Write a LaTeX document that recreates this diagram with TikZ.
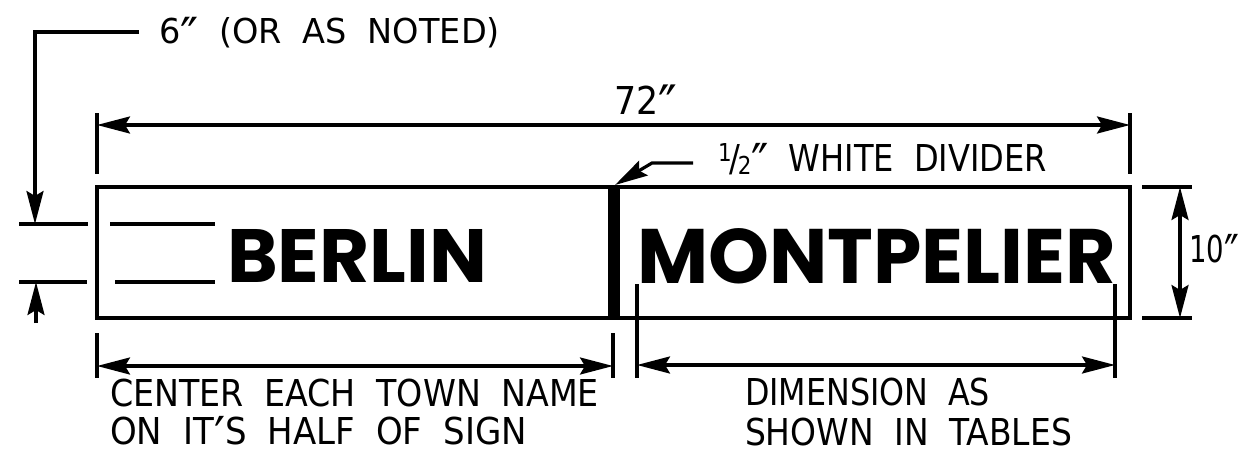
\documentclass[tikz,border=0pt]{standalone}
\usepackage{fontspec}
\usepackage{graphicx}
\usetikzlibrary{arrows.meta}
\newfontfamily\cadfont{DejaVu Sans}
\newfontfamily\signfont{Poppins}
\newcommand\capfit[3]{\resizebox{#1}{#2}{\vphantom{H}\smash{#3}}}
\newcommand\halfmark{{\fontsize{24pt}{24pt}\selectfont\raisebox{9pt}{1}}\kern-2pt/\kern-3pt{\fontsize{24pt}{24pt}\selectfont\raisebox{-3pt}{2}}}
\newcommand\inch{\raisebox{-0.3em}{\scalebox{1.45}{″}}}
\newcommand\apos{\raisebox{-0.3em}{\scalebox{1.45}{′}}}
\newcommand\widespaces{\spaceskip=0.62em\relax}
\begin{document}
\begin{tikzpicture}[x=1pt,y=-1pt,
  >={Stealth[length=33pt,width=17pt,inset=5pt]},
  ln/.style={line width=3.2pt},
  cad/.style={anchor=base west, inner sep=0pt, outer sep=0pt, font={\cadfont\fontsize{36pt}{36pt}\selectfont\widespaces}},
  signtext/.style={anchor=base west, inner sep=0pt, outer sep=0pt, font={\signfont\bfseries\fontsize{77pt}{77pt}\selectfont}}]
\useasboundingbox[fill=white] (0,0) rectangle (1241,458);

% sign panel and divider
\node[draw, line width=3.2pt, inner sep=0pt, outer sep=0pt, minimum width=1033pt, minimum height=131pt, anchor=north west] (sign) at (97,187) {};
\node[fill, inner sep=0pt, outer sep=0pt, minimum width=12pt, minimum height=131pt, anchor=north west] (divider) at (608,187) {};

% sign legends
\node[signtext] (berlin) at (227,282) {\resizebox{260pt}{53pt}{BERLIN}};
\node[signtext] (montpelier) at (637,283) {\resizebox{479pt}{55pt}{MONTPELIER}};

% labels
\node[cad] (t6) at (159,43) {\capfit{341pt}{25pt}{6\inch\ (OR AS NOTED)}};
\node[cad] (t72) at (614,114) {\capfit{63pt}{28pt}{72\inch}};
\node[cad] (tdiv) at (718,171) {\capfit{329pt}{27pt}{\halfmark\inch\ WHITE DIVIDER}};
\node[cad] (t10) at (1189,262) {\capfit{50pt}{27pt}{10\inch}};
\node[cad] (tc1) at (110,406) {\capfit{489pt}{27pt}{CENTER EACH TOWN NAME}};
\node[cad] (tc2) at (110,444) {\capfit{417pt}{27pt}{ON IT\apos S HALF OF SIGN}};
\node[cad] (td1) at (745,405) {\capfit{245pt}{27pt}{DIMENSION AS}};
\node[cad] (td2) at (745,445) {\capfit{327pt}{27pt}{SHOWN IN TABLES}};

% coordinates
\coordinate (L6a) at (139,32); \coordinate (L6b) at (35,32); \coordinate (L6c) at (35,224);
\coordinate (xa1) at (19,224); \coordinate (xa2) at (88,224);
\coordinate (xa3) at (110,224); \coordinate (xa4) at (215,224);
\coordinate (xb1) at (19,282); \coordinate (xb2) at (87,282);
\coordinate (xb3) at (115,282); \coordinate (xb4) at (215,282);
\coordinate (ar1) at (36,323); \coordinate (ar2) at (36,282);
\coordinate (e1a) at (97,113); \coordinate (e1b) at (97,174);
\coordinate (e2a) at (1130,113); \coordinate (e2b) at (1130,174);
\coordinate (d72a) at (97,125); \coordinate (d72b) at (1130,125);
\coordinate (dv1) at (693,163); \coordinate (dv2) at (652,163); \coordinate (dv3) at (615,185);
\coordinate (r1a) at (1142,187); \coordinate (r1b) at (1192,187);
\coordinate (r2a) at (1142,318); \coordinate (r2b) at (1192,318);
\coordinate (d10a) at (1180,187); \coordinate (d10b) at (1180,318);
\coordinate (b1a) at (97,333); \coordinate (b1b) at (97,378);
\coordinate (b2a) at (613,333); \coordinate (b2b) at (613,378);
\coordinate (dba) at (97,366); \coordinate (dbb) at (613,366);
\coordinate (c1a) at (637,284); \coordinate (c1b) at (637,378);
\coordinate (c2a) at (1115,284); \coordinate (c2b) at (1115,378);
\coordinate (dca) at (637,365); \coordinate (dcb) at (1115,365);

% 6" leader and left dimension
\draw[ln,->] (L6a) -- (L6b) -- (L6c);
\draw[ln] (xa1) -- (xa2);
\draw[ln] (xa3) -- (xa4);
\draw[ln] (xb1) -- (xb2);
\draw[ln] (xb3) -- (xb4);
\draw[ln,->] (ar1) -- (ar2);

% 72" dimension
\draw[ln] (e1a) -- (e1b);
\draw[ln] (e2a) -- (e2b);
\draw[ln,<->] (d72a) -- (d72b);

% divider leader
\draw[ln,->] (dv1) -- (dv2) -- (dv3);

% 10" dimension
\draw[ln] (r1a) -- (r1b);
\draw[ln] (r2a) -- (r2b);
\draw[ln,<->] (d10a) -- (d10b);

% bottom left dimension
\draw[ln] (b1a) -- (b1b);
\draw[ln] (b2a) -- (b2b);
\draw[ln,<->] (dba) -- (dbb);

% bottom right dimension
\draw[ln] (c1a) -- (c1b);
\draw[ln] (c2a) -- (c2b);
\draw[ln,<->] (dca) -- (dcb);
\end{tikzpicture}
\end{document}
